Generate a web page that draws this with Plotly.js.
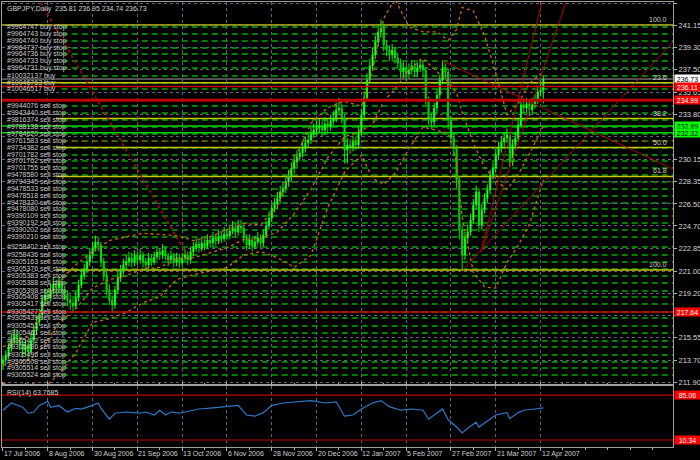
<!DOCTYPE html>
<html><head><meta charset="utf-8">
<script src="https://cdn.plot.ly/plotly-3.0.1.min.js"></script>
<style>html,body{margin:0;padding:0;background:#000;}#chart{width:700px;height:460px;}</style>
</head><body><div id="chart"></div>
<script>
const dateLabels = ['17 Jul 2006','8 Aug 2006','30 Aug 2006','21 Sep 2006','13 Oct 2006','6 Nov 2006','28 Nov 2006','20 Dec 2006','12 Jan 2007','5 Feb 2007','27 Feb 2007','21 Mar 2007','12 Apr 2007'];
const dateLabelBars = [0,16,32,48,64,80,96,112,128,144,160,176,192];
const minorTickBars = [8,24,40,56,72,88,104,120,136,152,168,184,200,208,216,224,232];

const open = [213.40,213.72,214.13,214.70,215.35,215.76,215.52,214.94,214.54,214.94,
214.37,215.35,216.17,216.83,217.40,218.63,219.04,218.79,219.45,219.94,
219.61,220.10,219.45,219.04,218.63,218.38,218.14,218.79,219.86,220.68,
221.09,221.74,222.32,222.89,223.38,223.13,221.74,220.68,219.45,218.63,
218.22,219.45,220.43,221.09,221.50,221.74,222.07,221.74,222.23,221.91,
222.32,221.74,221.50,222.07,221.74,222.15,222.56,222.32,222.72,222.23,
221.91,222.23,221.74,222.07,221.66,222.07,222.32,221.91,222.56,222.97,
223.22,222.89,223.30,223.05,223.54,223.30,223.71,223.46,223.87,223.63,
224.04,223.87,224.28,224.53,224.20,224.69,224.53,223.71,223.13,223.54,
223.05,223.38,223.71,223.30,223.95,224.69,225.35,226.16,226.49,226.98,
227.48,227.80,228.29,228.79,229.44,229.93,230.34,230.67,231.08,231.49,
231.73,232.23,232.55,232.72,232.88,232.55,233.04,232.80,233.29,233.54,
234.19,234.35,233.54,230.91,231.32,231.16,231.57,231.32,232.39,233.78,
235.17,236.65,237.79,238.70,239.76,240.58,240.91,239.51,239.10,238.70,
239.10,238.45,238.04,237.30,237.63,237.14,237.47,237.79,237.30,237.63,
237.88,237.47,235.01,233.54,233.21,234.35,235.42,236.65,237.63,237.30,
233.37,231.90,231.08,228.46,224.36,222.32,223.71,224.20,225.18,226.41,
227.48,224.77,226.00,226.98,227.64,228.87,229.44,230.50,231.08,231.57,
231.90,232.14,229.93,231.32,231.90,232.96,234.60,234.35,234.68,234.19,
234.68,235.01,235.66,235.81];
const high = [214.1,214.5,215.1,215.9,216.3,216.2,215.8,215.3,215.4,215.2,
215.8,216.6,217.3,217.9,219.0,219.6,219.5,220.0,220.5,220.3,
220.6,220.4,219.8,219.4,219.1,218.8,219.3,220.3,221.2,221.6,
222.3,222.9,223.4,223.9,223.8,223.4,222.1,221.0,219.9,219.0,
219.8,220.9,221.5,222.0,222.3,222.6,222.5,222.7,222.6,222.8,
222.6,222.1,222.5,222.4,222.6,223.0,222.9,223.2,223.0,222.5,
222.7,222.5,222.5,222.4,222.5,222.8,222.6,223.0,223.4,223.7,
223.5,223.8,223.6,224.0,223.9,224.2,224.0,224.4,224.2,224.6,
224.4,224.8,225.1,224.9,225.2,225.2,224.8,224.0,224.0,223.8,
223.9,224.2,224.0,224.4,225.1,225.9,226.6,227.0,227.5,228.0,
228.3,228.8,229.3,229.9,230.5,230.9,231.2,231.6,232.0,232.3,
232.8,233.1,233.3,233.5,233.3,233.6,233.5,233.8,234.1,234.8,
235.2,234.7,233.8,231.9,231.8,232.1,232.0,232.9,234.3,235.7,
237.2,238.4,239.3,240.3,241.1,241.6,241.2,239.9,239.5,239.6,
239.4,238.9,238.4,238.1,237.9,238.0,238.3,238.1,238.1,238.4,
238.2,237.7,235.3,234.0,234.8,235.9,237.1,238.2,238.0,237.6,
233.7,232.4,231.3,228.8,224.8,224.2,224.8,225.7,226.9,228.0,
227.8,226.5,227.4,228.1,229.3,229.9,231.0,231.6,232.0,232.4,
232.7,232.4,231.8,232.4,233.5,235.1,235.0,235.2,234.9,235.2,
235.5,236.1,236.4,236.95];
const low = [212.9,213.3,213.8,214.4,215.0,215.0,214.5,213.9,214.1,213.8,
214.2,215.0,215.8,216.5,217.1,218.2,218.3,218.5,219.1,219.0,
219.2,219.0,218.6,218.1,217.8,217.7,217.9,218.5,219.6,220.3,
220.8,221.4,222.0,222.6,222.6,221.3,220.2,219.0,218.2,217.7,
217.9,219.1,220.1,220.7,221.1,221.4,221.3,221.4,221.5,221.6,
221.3,221.0,221.2,221.4,221.5,221.9,221.9,222.0,221.9,221.4,
221.6,221.3,221.4,221.2,221.4,221.8,221.5,221.6,222.2,222.6,
222.5,222.6,222.7,222.8,222.9,223.0,223.1,223.2,223.3,223.4,
223.5,223.6,224.0,223.8,223.9,224.1,223.3,222.7,222.8,222.6,
222.8,223.1,222.9,223.0,223.7,224.4,225.0,225.8,226.1,226.6,
227.1,227.4,227.9,228.4,229.0,229.5,230.0,230.3,230.7,231.1,
231.4,231.9,232.1,232.3,232.0,232.2,232.3,232.5,233.0,233.2,
233.8,233.1,229.8,229.8,230.6,230.8,230.9,231.0,232.1,233.5,
234.9,236.3,237.4,238.4,239.4,240.1,239.0,238.6,238.2,238.3,
238.0,237.6,236.8,236.9,236.6,236.8,237.1,236.9,236.9,237.3,
236.9,234.6,233.0,232.6,232.9,234.0,235.1,236.3,236.8,232.6,
231.3,230.4,227.8,223.6,221.2,221.9,223.2,223.9,224.9,226.1,
224.2,224.4,225.7,226.6,227.3,228.5,229.1,230.1,230.7,231.2,
231.5,229.5,229.6,231.0,231.6,232.7,233.9,234.0,233.7,233.9,
234.3,234.7,235.3,234.74];
const close = [213.72,214.13,214.70,215.35,215.76,215.52,214.94,214.54,214.94,214.37,
215.35,216.17,216.83,217.40,218.63,219.04,218.79,219.45,219.94,219.61,
220.10,219.45,219.04,218.63,218.38,218.14,218.79,219.86,220.68,221.09,
221.74,222.32,222.89,223.38,223.13,221.74,220.68,219.45,218.63,218.22,
219.45,220.43,221.09,221.50,221.74,222.07,221.74,222.23,221.91,222.32,
221.74,221.50,222.07,221.74,222.15,222.56,222.32,222.72,222.23,221.91,
222.23,221.74,222.07,221.66,222.07,222.32,221.91,222.56,222.97,223.22,
222.89,223.30,223.05,223.54,223.30,223.71,223.46,223.87,223.63,224.04,
223.87,224.28,224.53,224.20,224.69,224.53,223.71,223.13,223.54,223.05,
223.38,223.71,223.30,223.95,224.69,225.35,226.16,226.49,226.98,227.48,
227.80,228.29,228.79,229.44,229.93,230.34,230.67,231.08,231.49,231.73,
232.23,232.55,232.72,232.88,232.55,233.04,232.80,233.29,233.54,234.19,
234.35,233.54,230.91,231.32,231.16,231.57,231.32,232.39,233.78,235.17,
236.65,237.79,238.70,239.76,240.58,240.91,239.51,239.10,238.70,239.10,
238.45,238.04,237.30,237.63,237.14,237.47,237.79,237.30,237.63,237.88,
237.47,235.01,233.54,233.21,234.35,235.42,236.65,237.63,237.30,233.37,
231.90,231.08,228.46,224.36,222.32,223.71,224.20,225.18,226.41,227.48,
224.77,226.00,226.98,227.64,228.87,229.44,230.50,231.08,231.57,231.90,
232.14,229.93,231.32,231.90,232.96,234.60,234.35,234.68,234.19,234.68,
235.01,235.66,235.83,236.73];

// Bollinger bands read at sample bars
const bandBars = [0,5,10,15,20,26,32,38,44,50,56,62,68,74,80,86,92,98,104,110,116,122,128,132,136,140,145,150,155,159,162,164,168,172,176,180,184,188,193];
const bandUpper = [214.8,215.3,215.8,218.5,220.2,221.5,222.6,223.5,223.8,224.1,224.0,223.9,223.5,223.8,224.4,224.9,224.8,226.3,230.1,233.1,234.4,234.9,234.5,237.4,241.7,243.3,241.0,240.6,240.6,239.9,240.8,242.6,242.3,240.3,237.2,233.8,234.7,236.4,237.3];
const bandMiddle = [213.3,213.4,213.8,215.0,216.8,217.9,219.6,220.3,220.6,221.2,221.3,222.0,222.1,222.5,222.9,223.6,223.7,224.2,225.7,227.7,230.3,232.0,232.5,233.0,234.9,235.9,237.5,238.4,237.3,236.5,235.6,234.0,231.5,229.5,228.4,227.7,228.9,230.6,232.9];
const bandLower = [211.8,211.5,211.8,211.5,212.6,214.3,216.8,217.1,217.6,218.4,218.9,220.3,220.7,221.0,221.3,222.3,222.6,222.1,221.3,222.3,226.2,229.1,230.5,228.6,228.1,229.0,231.0,232.8,232.5,232.3,230.0,225.4,220.9,219.7,219.6,221.7,223.1,224.8,228.5];

const rsiBars = [0,3,7,9,11,13,16,17,20,23,26,28,32,34,35,38,40,44,49,51,54,56,58,60,63,66,70,75,80,84,87,90,93,96,100,105,110,115,119,122,125,128,132,135,138,142,146,150,152,154,157,159,162,164,166,169,170,173,176,180,181,184,186,190,193];
const rsiValues = [60,72,65,55,57,68,75,65,68,57,63,62,68,72,63,45,55,57,55,57,52,60,52,57,55,58,62,64,66,68,52,50,56,68,72,74,76,72,74,50,52,62,72,76,66,60,62,60,45,52,62,44,32,22,30,40,32,42,52,56,46,56,60,62,63.76];

const orderIds = ['#9964747','#9964743','#9964740','#9964737','#9964736','#9964733','#9964731','#10032137','#10046763','#10046517',
'#9944076','#9943440','#9816374','#9788138','#9784620','#9761583','#9734382','#9701782','#9701762','#9701755',
'#9478580','#9794345','#9478533','#9478518','#9478320','#9478080','#9390109','#9390192','#9390202','#9390210',
'#9258402','#9258436','#9305163','#9305376','#9305383','#9305388','#9305398','#9305408','#9305417','#9305427',
'#9305439','#9305451','#9305461','#9305472','#9305486','#9305496','#9305508','#9305514','#9305524'];
const orderTypes = ['buy stop','buy stop','buy stop','buy stop','buy stop','buy stop','buy stop','buy','buy','buy',
'sell stop','sell stop','sell stop','sell stop','sell stop','sell stop','sell stop','sell stop','sell stop','sell stop',
'sell stop','sell stop','sell stop','sell stop','sell stop','sell stop','sell stop','sell stop','sell stop','sell stop',
'sell stop','sell stop','sell stop','sell stop','sell stop','sell stop','sell stop','sell stop','sell stop','sell stop',
'sell stop','sell stop','sell stop','sell stop','sell stop','sell stop','sell stop','sell stop','sell stop'];
const orderPrices = [240.99,240.42,239.84,239.27,238.78,238.20,237.63,236.98,236.40,235.91,
234.52,233.95,233.37,232.80,232.23,231.65,231.08,230.51,230.01,229.44,
228.87,228.29,227.72,227.15,226.57,226.08,225.51,224.94,224.36,223.79,
222.97,222.32,221.74,221.17,220.60,220.02,219.37,218.88,218.30,217.65,
217.16,216.50,215.93,215.27,214.78,214.13,213.55,213.06,212.49];
const stopLossPrice = 231.65;

const fiboLabels = ['100.0','23.6','38.2','50.0','61.8','100.0'];
const fiboPrices = [241.15,236.42,233.49,231.12,228.75,221.09];

const priceTicks = [211.90,213.70,215.55,217.40,219.20,221.00,222.85,224.70,226.50,228.35,230.15,232.00,233.80,235.65,237.50,239.30,241.15,242.95];
const hiddenTicks = [217.40, 232.00];

const bidPrice = 236.73;
const redLevels = [236.11, 217.64];
const thickRedLevel = 234.99;
const greenLevels = [232.89, 232.32];
const rsiLevels = [85.06, 10.34];

// drawn trend lines: [bar, price] endpoints
const dottedRedLine = {x:[13.6,65.7], y:[242.95,222.32]};
const trendA = {x:[157.1,239.3], y:[238.20,229.36]};
const fanShallow = {x:[164.3,239.3], y:[221.09,239.76]};
const fanSteep1 = {x:[170.7,192.5], y:[222.56,243.04]};
const fanSteep2 = {x:[170.7,201.1], y:[222.56,243.04]};

const header = 'GBPJPY,Daily  235.81 236.95 234.74 236.73';
const rsiHeader = 'RSI(14) 63.7585';

const FONT = 'Liberation Sans, Arial, sans-serif';
const L = 2, R = 27, T = 2, B = 13, W = 700, H = 460;
const plotW = W - L - R;
const px = v => (v - L) / plotW;
const XMAX = 239.3;

const bars = open.map((_, i) => i);

const traces = [];
const lineTrace = (obj, color, dash, width, yaxis) => ({type:'scatter', mode:'lines', x:obj.x, y:obj.y, xaxis:'x', yaxis:yaxis || 'y',
  line:{color:color, dash:dash, width:width}, hoverinfo:'skip', showlegend:false});

traces.push(lineTrace({x:bandBars, y:bandUpper}, '#c86a14', 'dot', 1.3));
traces.push(lineTrace({x:bandBars, y:bandMiddle}, '#c86a14', 'dot', 1.3));
traces.push(lineTrace({x:bandBars, y:bandLower}, '#c86a14', 'dot', 1.3));
traces.push({type:'candlestick', x:bars, open:open, high:high, low:low, close:close, xaxis:'x', yaxis:'y',
  increasing:{line:{color:'#00ff00', width:1}, fillcolor:'#a8ffa8'},
  decreasing:{line:{color:'#00e000', width:1}, fillcolor:'#009a00'},
  whiskerwidth:0, hoverinfo:'skip', showlegend:false});
traces.push(lineTrace(dottedRedLine, '#c00000', 'dot', 1.5));
traces.push(lineTrace(trendA, '#b00000', 'solid', 1));
traces.push(lineTrace(fanShallow, '#b00000', 'solid', 1));
traces.push(lineTrace(fanSteep1, '#b00000', 'solid', 1));
traces.push(lineTrace(fanSteep2, '#b00000', 'solid', 1));
traces.push({type:'scatter', mode:'lines', x:rsiBars, y:rsiValues, xaxis:'x', yaxis:'y2',
  line:{color:'#2f78c8', width:1.2}, hoverinfo:'skip', showlegend:false});

const shapes = [];
orderPrices.forEach(p => shapes.push({type:'line', xref:'x', yref:'y', x0:21, x1:XMAX, y0:p, y1:p,
  line:{color:'#00a800', width:1.5, dash:'6px,4px'}, layer:'below'}));
shapes.push({type:'line', xref:'x', yref:'y', x0:21, x1:XMAX, y0:stopLossPrice, y1:stopLossPrice,
  line:{color:'#c03000', width:1.5, dash:'3px,7px'}, layer:'below'});
fiboPrices.forEach((p, k) => shapes.push({type:'line', xref:'x', yref:'y', x0:(k < 2 ? -1 : 19), x1:XMAX, y0:p, y1:p,
  line:{color:'#c8c800', width:1.5}, layer:'below'}));
shapes.push({type:'line', xref:'x', yref:'y', x0:-1, x1:XMAX, y0:bidPrice, y1:bidPrice, line:{color:'#a0a0a0', width:1}, layer:'below'});
redLevels.forEach(p => shapes.push({type:'line', xref:'x', yref:'y', x0:-1, x1:XMAX, y0:p, y1:p, line:{color:'#d00000', width:1.5}}));
shapes.push({type:'line', xref:'x', yref:'y', x0:-1, x1:XMAX, y0:thickRedLevel, y1:thickRedLevel, line:{color:'#c00000', width:3}});
greenLevels.forEach(p => shapes.push({type:'line', xref:'x', yref:'y', x0:-1, x1:XMAX, y0:p, y1:p, line:{color:'#00d000', width:1.5}, layer:'below'}));
rsiLevels.forEach(p => shapes.push({type:'line', xref:'x', yref:'y2', x0:-1, x1:XMAX, y0:p, y1:p, line:{color:'#c00000', width:1.2}}));

const annotations = [];
annotations.push({xref:'paper', yref:'paper', x:px(5), y:1, xanchor:'left', yanchor:'top', yshift:-1, showarrow:false,
  text:header, font:{family:FONT, size:7, color:'#d0d0d0'}});
orderIds.forEach((id, k) => annotations.push({xref:'paper', yref:'y', x:px(5), y:orderPrices[k], xanchor:'left', yanchor:'middle',
  showarrow:false, text:id + ' ' + orderTypes[k], font:{family:FONT, size:7, color:'#cccccc'}}));
fiboLabels.forEach((t, k) => annotations.push({xref:'paper', yref:'y', x:px(669), y:fiboPrices[k], xanchor:'right', yanchor:'bottom',
  showarrow:false, text:t, font:{family:FONT, size:7, color:'#d0d0c0'}}));
const boxLabel = (yref, val, bg, fg) => ({xref:'paper', yref:yref, x:1, y:val, xanchor:'left', yanchor:'middle', xshift:1,
  showarrow:false, text:val.toFixed(2), bgcolor:bg, borderpad:0, height:8, width:25, font:{family:FONT, size:7, color:fg}});
annotations.push(boxLabel('y', bidPrice, '#ffffff', '#000000'));
annotations.push(boxLabel('y', redLevels[0], '#ff0000', '#ffffff'));
annotations.push(boxLabel('y', thickRedLevel, '#ff0000', '#ffffff'));
annotations.push(boxLabel('y', greenLevels[0], '#00ff00', '#000000'));
annotations.push(boxLabel('y', greenLevels[1], '#00ff00', '#000000'));
annotations.push(boxLabel('y', redLevels[1], '#ff0000', '#ffffff'));
annotations.push(boxLabel('y2', rsiLevels[0], '#ff0000', '#ffffff'));
annotations.push(boxLabel('y2', rsiLevels[1], '#ff0000', '#ffffff'));
annotations.push({xref:'paper', yref:'y2', x:px(5), y:100, xanchor:'left', yanchor:'top', yshift:-1, showarrow:false,
  text:rsiHeader, font:{family:FONT, size:7, color:'#d0d0d0'}});
dateLabels.forEach((t, k) => annotations.push({xref:'x', yref:'paper', x:dateLabelBars[k], y:0, xanchor:'left', yanchor:'top',
  xshift:-1, yshift:-1, showarrow:false, text:t, font:{family:FONT, size:7, color:'#d0d0d0'}}));

const gridColor = '#5c6478';
const layout = {
  width:W, height:H, paper_bgcolor:'#000', plot_bgcolor:'#000',
  margin:{l:L, r:R, t:T, b:B}, showlegend:false, dragmode:false, boxgap:0.45,
  xaxis:{range:[-0.35, XMAX], anchor:'y2', tickvals:dateLabelBars, showticklabels:false, ticks:'outside', ticklen:3,
    tickcolor:'#b0b0b0', showgrid:true, gridcolor:gridColor, griddash:'3px,3px', gridwidth:1, zeroline:false,
    showline:true, linecolor:'#a0a0a0', mirror:'all', rangeslider:{visible:false}, fixedrange:true,
    minor:{tickvals:minorTickBars, ticks:'outside', ticklen:2, tickcolor:'#b0b0b0', showgrid:false}},
  yaxis:{domain:[0.1416, 1], range:[211.75, 243.04], side:'right', tickvals:priceTicks,
    ticktext:priceTicks.map(v => hiddenTicks.includes(v) ? '' : v.toFixed(2)),
    tickfont:{family:FONT, size:7.5, color:'#d8d8d8'}, ticks:'outside', ticklen:3, tickcolor:'#b0b0b0',
    showgrid:true, gridcolor:gridColor, griddash:'3px,3px', zeroline:false, showline:true, linecolor:'#a0a0a0', mirror:true, fixedrange:true},
  yaxis2:{domain:[0, 0.137], range:[-1.3, 100.3], side:'right', showgrid:false, showticklabels:false, ticks:'', zeroline:false,
    showline:true, linecolor:'#a0a0a0', mirror:true, fixedrange:true},
  shapes:shapes, annotations:annotations
};
Plotly.newPlot('chart', traces, layout, {staticPlot:true, displayModeBar:false});
</script></body></html>
